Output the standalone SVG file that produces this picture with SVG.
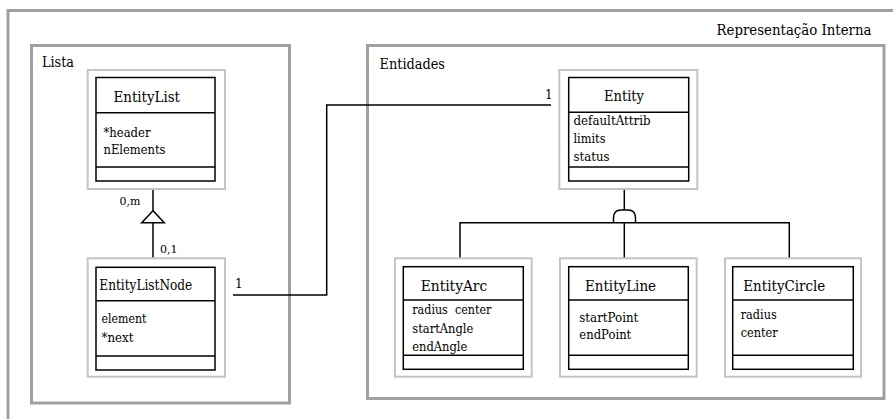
<svg xmlns="http://www.w3.org/2000/svg" width="893" height="419" viewBox="0 0 893 419">
  <style>
    text { font-family: "DejaVu Serif", serif; fill: #000; }
    .frame { fill: none; stroke: #a0a0a0; stroke-width: 3; }
    .shell { fill: #fff; stroke: #c4c4c4; stroke-width: 2; }
    .cls { fill: #fff; stroke: #000; stroke-width: 1.5; }
    .div { stroke: #000; stroke-width: 1.5; }
    .wire { fill: none; stroke: #000; stroke-width: 1.5; }
    .title { font-size: 15px; }
    .attr { font-size: 13px; }
    .card { font-size: 11px; }
    .lbl { font-size: 15px; }
  </style>
  <rect width="893" height="419" fill="#fff"/>

  <!-- packages -->
  <g id="representacao-interna">
    <path class="frame" d="M8,430 V10.5 H900"/>
    <text class="lbl" x="716.5" y="35" textLength="155" lengthAdjust="spacingAndGlyphs">Representação Interna</text>
  </g>
  <g id="lista">
    <rect class="frame" x="31.5" y="45.5" width="258" height="357.5"/>
    <text class="lbl" x="42" y="67" textLength="32" lengthAdjust="spacingAndGlyphs">Lista</text>
  </g>
  <g id="entidades">
    <rect class="frame" x="367.5" y="45.5" width="516.5" height="353"/>
    <text class="lbl" x="379.5" y="69" textLength="65.5" lengthAdjust="spacingAndGlyphs">Entidades</text>
  </g>

  <!-- connectors -->
  <g id="connectors">
    <path class="wire" d="M153,189 V210.7"/>
    <path class="wire" fill="#fff" d="M153,210.7 L141.7,222.7 H164.3 Z"/>
    <path class="wire" d="M153,222.7 V258.3"/>
    <text class="card" x="119.5" y="205">0,m</text>
    <text class="card" x="160" y="253">0,1</text>

    <path class="wire" d="M233,295 H326.7 V105 H551"/>
    <text class="card" x="235" y="288" style="font-size:12px">1</text>
    <text class="card" x="545" y="99" style="font-size:12px">1</text>

    <path class="wire" d="M624.3,189 V210"/>
    <path class="wire" d="M460,258.3 V222.7 H789.3 V258.3"/>
    <path class="wire" d="M624.3,222.7 V258.3"/>
    <path class="wire" d="M613.5,222.7 V218 Q613.5,210 621,210 H628 Q635.5,210 635.5,218 V222.7"/>
  </g>

  <!-- classes -->
  <g id="EntityList">
    <rect class="shell" x="87.7" y="70" width="137.3" height="119"/>
    <rect class="cls" x="96" y="77.5" width="119" height="103.5"/>
    <line class="div" x1="96" y1="112.7" x2="215" y2="112.7"/>
    <line class="div" x1="96" y1="167" x2="215" y2="167"/>
    <text class="title" x="113.5" y="101.5" textLength="66.5" lengthAdjust="spacingAndGlyphs">EntityList</text>
    <text class="attr" x="103.5" y="136.5" textLength="47" lengthAdjust="spacingAndGlyphs">*header</text>
    <text class="attr" x="103.5" y="154" textLength="62" lengthAdjust="spacingAndGlyphs">nElements</text>
  </g>

  <g id="EntityListNode">
    <rect class="shell" x="87.7" y="258.3" width="137.3" height="118.4"/>
    <rect class="cls" x="96" y="267.3" width="119" height="102.7"/>
    <line class="div" x1="96" y1="300.7" x2="215" y2="300.7"/>
    <line class="div" x1="96" y1="356" x2="215" y2="356"/>
    <text class="title" x="99.3" y="290" textLength="93" lengthAdjust="spacingAndGlyphs">EntityListNode</text>
    <text class="attr" x="101.5" y="322.7" textLength="45" lengthAdjust="spacingAndGlyphs">element</text>
    <text class="attr" x="101.5" y="341.7" textLength="32" lengthAdjust="spacingAndGlyphs">*next</text>
  </g>

  <g id="Entity">
    <rect class="shell" x="559.3" y="70" width="138" height="119"/>
    <rect class="cls" x="568.7" y="77.5" width="120" height="103.5"/>
    <line class="div" x1="568.7" y1="112.3" x2="688.7" y2="112.3"/>
    <line class="div" x1="568.7" y1="167" x2="688.7" y2="167"/>
    <text class="title" x="604" y="101" textLength="40" lengthAdjust="spacingAndGlyphs">Entity</text>
    <text class="attr" x="573.5" y="125" textLength="77" lengthAdjust="spacingAndGlyphs">defaultAttrib</text>
    <text class="attr" x="573.5" y="143" textLength="32" lengthAdjust="spacingAndGlyphs">limits</text>
    <text class="attr" x="573.5" y="161" textLength="36" lengthAdjust="spacingAndGlyphs">status</text>
  </g>

  <g id="EntityArc">
    <rect class="shell" x="395" y="258.3" width="136.7" height="118.4"/>
    <rect class="cls" x="403.3" y="266.7" width="120" height="102.6"/>
    <line class="div" x1="403.3" y1="300" x2="523.3" y2="300"/>
    <line class="div" x1="403.3" y1="355.3" x2="523.3" y2="355.3"/>
    <text class="title" x="420.7" y="290.5" textLength="66.5" lengthAdjust="spacingAndGlyphs">EntityArc</text>
    <text class="attr" x="412.3" y="314.3" xml:space="preserve" textLength="79" lengthAdjust="spacingAndGlyphs">radius  center</text>
    <text class="attr" x="412.3" y="332.5" textLength="61" lengthAdjust="spacingAndGlyphs">startAngle</text>
    <text class="attr" x="412.3" y="350.5" textLength="55" lengthAdjust="spacingAndGlyphs">endAngle</text>
  </g>

  <g id="EntityLine">
    <rect class="shell" x="560" y="258.3" width="136.7" height="118.4"/>
    <rect class="cls" x="568.7" y="266.7" width="119.6" height="102.6"/>
    <line class="div" x1="568.7" y1="300" x2="688.3" y2="300"/>
    <line class="div" x1="568.7" y1="355.3" x2="688.3" y2="355.3"/>
    <text class="title" x="585" y="290.5" textLength="71" lengthAdjust="spacingAndGlyphs">EntityLine</text>
    <text class="attr" x="579.3" y="321.7" textLength="59" lengthAdjust="spacingAndGlyphs">startPoint</text>
    <text class="attr" x="579.3" y="339.3" textLength="52" lengthAdjust="spacingAndGlyphs">endPoint</text>
  </g>

  <g id="EntityCircle">
    <rect class="shell" x="725" y="258.3" width="136" height="118.4"/>
    <rect class="cls" x="732.7" y="266.7" width="120.6" height="102.6"/>
    <line class="div" x1="732.7" y1="300" x2="853.3" y2="300"/>
    <line class="div" x1="732.7" y1="355.3" x2="853.3" y2="355.3"/>
    <text class="title" x="743.3" y="290.5" textLength="82" lengthAdjust="spacingAndGlyphs">EntityCircle</text>
    <text class="attr" x="740.7" y="319.3" textLength="36" lengthAdjust="spacingAndGlyphs">radius</text>
    <text class="attr" x="740.7" y="337.3" textLength="37" lengthAdjust="spacingAndGlyphs">center</text>
  </g>
</svg>
